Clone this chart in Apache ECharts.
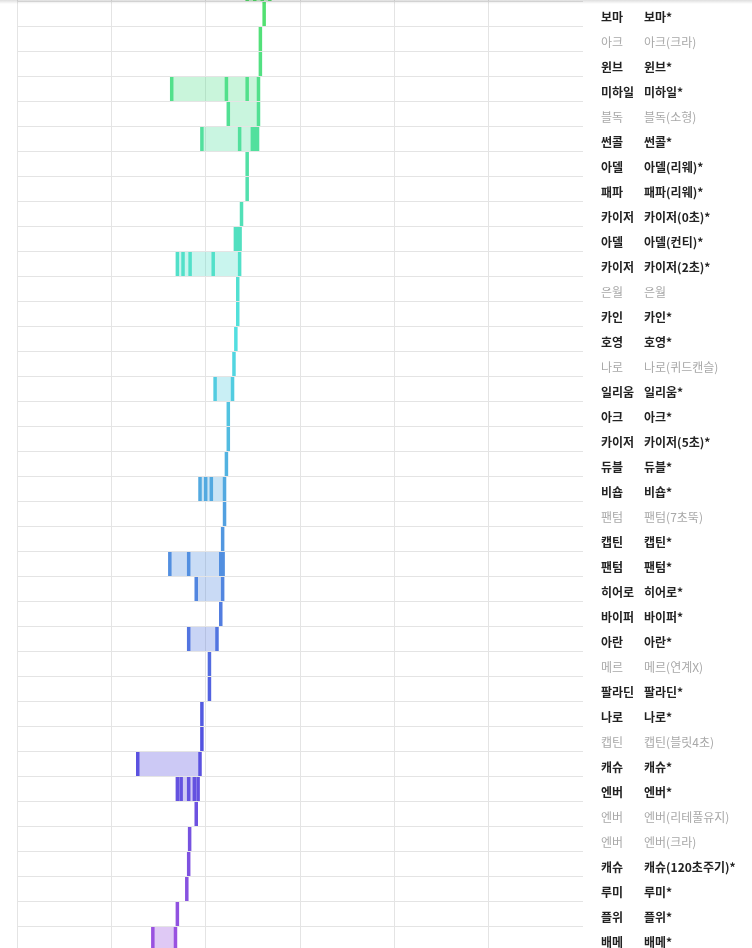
<!DOCTYPE html>
<html>
<head>
<meta charset="utf-8">
<script src="https://cdn.jsdelivr.net/npm/echarts@6.0.0/dist/echarts.min.js"></script>
<style>
html,body{margin:0;padding:0;background:#fff;}
#chart{width:752px;height:948px;}
</style>
</head>
<body>
<div id="chart"></div>
<script>
// Row short names (left label column)
const shortNames = ['', '보마','아크','윈브','미하일','블독','썬콜','아델','패파','카이저','아델','카이저','은월','카인','호영','나로','일리움','아크','카이저','듀블','비숍','팬텀','캡틴','팬텀','히어로','바이퍼','아란','메르','팔라딘','나로','캡틴','캐슈','엔버','엔버','엔버','캐슈','루미','플위','배메'];
// Row full names (right label column)
const fullNames = ['', '보마*','아크(크라)','윈브*','미하일*','블독(소형)','썬콜*','아델(리웨)*','패파(리웨)*','카이저(0초)*','아델(컨티)*','카이저(2초)*','은월','카인*','호영*','나로(퀴드캔슬)','일리움*','아크*','카이저(5초)*','듀블*','비숍*','팬텀(7초뚝)','캡틴*','팬텀*','히어로*','바이퍼*','아란*','메르(연계X)','팔라딘*','나로*','캡틴(블릿4초)','캐슈*','엔버*','엔버(리테풀유지)','엔버(크라)','캐슈(120초주기)*','루미*','플위*','배메*'];
// Rows shown in grey
const dimmedRows = [2, 5, 12, 15, 21, 27, 30, 33, 34];
// Values per row (each tick mark); range = min..max
const points = [
  [48.8, 50.4, 52.0, 53.6],
  [52.4],
  [51.6],
  [51.6],
  [32.8, 44.4, 48.8, 51.2],
  [44.8, 51.2],
  [39.2, 47.2, 49.9, 50.4, 51.0],
  [48.8],
  [48.8],
  [47.6],
  [46.3, 46.8, 47.3],
  [34.0, 35.2, 36.7, 41.6, 47.2],
  [46.8],
  [46.8],
  [46.4],
  [46.0],
  [42.0, 45.7],
  [44.8],
  [44.8],
  [44.4],
  [38.8, 40.0, 41.2, 44.0],
  [44.0],
  [43.6],
  [32.4, 36.4, 43.2, 43.7],
  [38.0, 43.6],
  [43.2],
  [36.4, 42.4],
  [40.8],
  [40.8],
  [39.2],
  [39.2],
  [25.6, 38.8],
  [34.0, 34.8, 36.4, 37.6, 38.4],
  [38.0],
  [36.6],
  [36.4],
  [36.0],
  [34.0],
  [28.8, 33.6]
];
const xTicks = [0, 20, 40, 60, 80, 100, 120];

function rowHue(i) { return 129.3 + 3.7 * i; }

const chart = echarts.init(document.getElementById('chart'), null, {renderer: 'canvas'});

const seriesData = points.map((p, i) => [Math.min.apply(null, p), Math.max.apply(null, p), i]);

chart.setOption({
  backgroundColor: '#ffffff',
  animation: false,
  grid: {left: 17, right: 169, top: -24, height: 975, outerBoundsMode: 'none', containLabel: false},
  xAxis: {
    type: 'value', min: xTicks[0], max: xTicks[xTicks.length - 1], interval: 20,
    axisLabel: {show: false}, axisTick: {show: false}, axisLine: {show: false},
    splitLine: {show: true, showMaxLine: false, lineStyle: {color: '#e4e4e4', width: 1}}
  },
  yAxis: {
    type: 'category', data: shortNames, inverse: true, position: 'right',
    axisLine: {show: false}, axisTick: {show: false},
    splitLine: {show: true, interval: 0, lineStyle: {color: '#e4e4e4', width: 1}},
    axisLabel: {
      interval: 0, margin: 18, align: 'left', padding: [8, 0, 0, 0],
      formatter: function (v, idx) {
        const dim = dimmedRows.indexOf(idx) >= 0;
        const a = dim ? 'ad' : 'a';
        const b = dim ? 'bd' : 'b';
        return '{' + a + '|' + shortNames[idx] + '}{' + b + '|' + fullNames[idx] + '}';
      },
      rich: {
        a: {width: 43, fontSize: 12, fontWeight: 'bold', color: '#222', fontFamily: 'Noto Sans CJK KR'},
        b: {fontSize: 12, fontWeight: 'bold', color: '#222', fontFamily: 'Noto Sans CJK KR'},
        ad: {width: 43, fontSize: 12, color: '#a8a8a8', fontFamily: 'Noto Sans CJK KR'},
        bd: {fontSize: 12, color: '#a8a8a8', fontFamily: 'Noto Sans CJK KR'}
      }
    }
  },
  graphic: [{
    type: 'rect', z: 100, silent: true,
    shape: {x: 0, y: 0, width: 752, height: 4},
    style: {fill: new echarts.graphic.LinearGradient(0, 0, 0, 1, [
      {offset: 0, color: 'rgba(0,0,0,0.13)'}, {offset: 1, color: 'rgba(0,0,0,0)'}])}
  }],
  series: [{
    type: 'custom',
    encode: {x: [0, 1], y: 2},
    data: seriesData,
    renderItem: function (params, api) {
      const i = api.value(2);
      const lo = api.coord([api.value(0), i]);
      const hi = api.coord([api.value(1), i]);
      const band = api.size([0, 1])[1];
      const top = lo[1] - band / 2 + 1;
      const h = band - 1;
      const hue = rowHue(i);
      const solid = 'hsl(' + hue + ',70%,60%)';
      const light = 'hsla(' + hue + ',70%,60%,0.31)';
      const children = [];
      if (hi[0] - lo[0] > 0.5) {
        children.push({type: 'rect', shape: {x: lo[0], y: top, width: hi[0] - lo[0], height: h}, style: {fill: light}});
      }
      points[i].forEach(function (p) {
        const c = api.coord([p, i])[0];
        children.push({type: 'rect', shape: {x: c - 1.75, y: top, width: 3.5, height: h}, style: {fill: solid}});
      });
      return {type: 'group', children: children};
    }
  }]
});
</script>
</body>
</html>
